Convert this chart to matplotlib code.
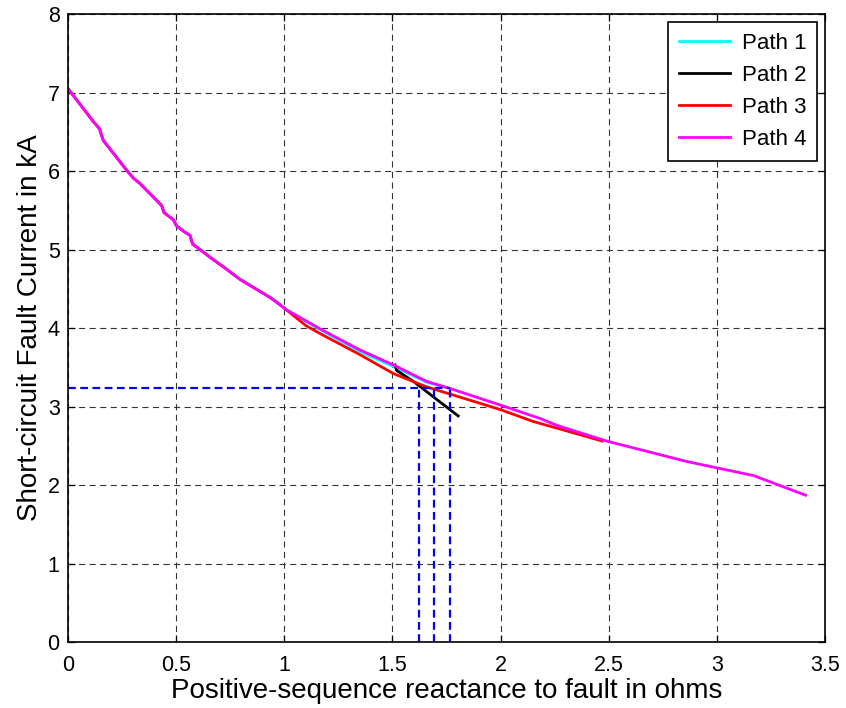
import matplotlib
matplotlib.use("Agg")
import matplotlib.pyplot as plt
import numpy as np

plt.rcParams['font.family'] = ['Liberation Sans', 'DejaVu Sans']

# Shared upstream section (identical for all four paths)
x_common = [0.0, 0.117, 0.145, 0.163, 0.271, 0.302, 0.333, 0.433, 0.444, 0.487,
            0.502, 0.541, 0.564, 0.576, 0.672, 0.718, 0.795, 0.934]
y_common = [7.05, 6.63, 6.54, 6.39, 6.01, 5.91, 5.84, 5.56, 5.47, 5.38,
            5.30, 5.22, 5.18, 5.07, 4.87, 4.78, 4.62, 4.39]

# Path-specific sections
x_path1 = [1.011, 1.165, 1.35, 1.504, 1.658, 1.766]
y_path1 = [4.23, 3.98, 3.70, 3.51, 3.31, 3.23]

x_path2 = [1.512, 1.519, 1.597, 1.70, 1.804]
y_path2 = [3.53, 3.46, 3.32, 3.10, 2.88]

x_path3 = [0.97, 1.10, 1.165, 1.35, 1.504, 1.658, 1.812, 2.0, 2.15, 2.305, 2.47]
y_path3 = [4.32, 4.03, 3.93, 3.66, 3.42, 3.25, 3.12, 2.96, 2.81, 2.69, 2.56]

x_path4 = [1.011, 1.165, 1.35, 1.504, 1.658, 1.766, 1.997, 2.18, 2.26, 2.49,
           2.86, 3.17, 3.41]
y_path4 = [4.23, 3.99, 3.72, 3.53, 3.32, 3.23, 3.02, 2.85, 2.76, 2.56,
           2.30, 2.12, 1.87]

# Fault-current threshold and the reactances where each path reaches it
i_threshold = 3.235
x_reach = [1.623, 1.692, 1.766]

fig = plt.figure(figsize=(8.46, 7.08), dpi=100)
ax = fig.add_axes([0.0804, 0.0932, 0.8948, 0.8870])

lw = 2.0
ax.plot(x_common + x_path1, y_common + y_path1, color=(0, 1, 1), lw=lw, label='Path 1')
ax.plot(x_path2, y_path2, color='k', lw=lw, label='Path 2')
ax.plot(x_common + x_path3, y_common + y_path3, color=(1, 0, 0), lw=lw, label='Path 3')
ax.plot(x_common + x_path4, y_common + y_path4, color=(1, 0, 1), lw=lw, label='Path 4')

dash = (0, (3.5, 2))
ax.plot([0, max(x_reach)], [i_threshold, i_threshold], color=(0, 0, 1), lw=1.6,
        linestyle=dash)
for xr in x_reach:
    ax.plot([xr, xr], [0, i_threshold], color=(0, 0, 1), lw=1.6, linestyle=dash)

ax.set_xlim(0, 3.5)
ax.set_ylim(0, 8)
ax.set_xticks(np.arange(0, 3.51, 0.5))
ax.set_xticklabels(['0', '0.5', '1', '1.5', '2', '2.5', '3', '3.5'])
ax.set_yticks(np.arange(0, 9, 1))
ax.grid(True, color='0.2', linestyle=(0, (5.5, 4)), lw=0.8)
ax.tick_params(direction='in', length=5, labelsize=15.5, top=True, right=True,
               width=0.9)
ax.tick_params(axis='x', pad=9)
ax.tick_params(axis='y', pad=6)
for s in ax.spines.values():
    s.set_linewidth(1.2)

ax.set_xlabel('Positive-sequence reactance to fault in ohms', fontsize=20, labelpad=2)
ax.set_ylabel('Short-circuit Fault Current in kA', fontsize=20, labelpad=3)

leg = ax.legend(loc='upper right', fontsize=16, fancybox=False, framealpha=1,
                edgecolor='k', borderaxespad=0.35, handlelength=2.3,
                labelspacing=0.5, borderpad=0.5, handletextpad=0.5)
leg.get_frame().set_linewidth(1.2)

fig.savefig('out.png', dpi=100)
